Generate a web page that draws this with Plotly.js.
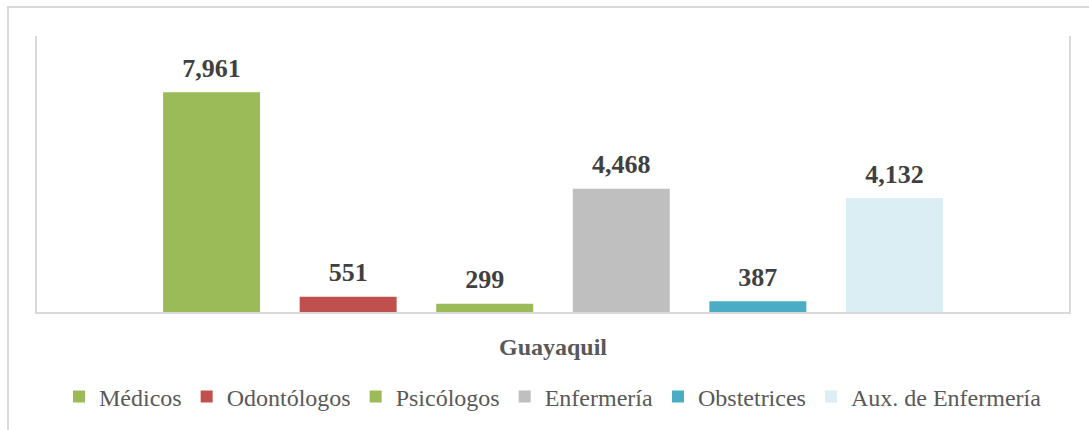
<!DOCTYPE html>
<html>
<head>
<meta charset="utf-8">
<script src="https://cdn.plot.ly/plotly-3.0.1.min.js"></script>
<style>
  html, body { margin: 0; padding: 0; background: #fff; overflow: hidden; }
  #chart { width: 1089px; height: 430px; position: absolute; left: 0; top: 0; }
  #frame { position: absolute; left: 7px; top: 6px; width: 1200px; height: 600px;
           border-top: 2px solid #d9d9d9; border-left: 2px solid #d9d9d9; pointer-events: none; }
</style>
</head>
<body>
<div id="chart"></div>
<div id="frame"></div>
<script>
const categories = ["Guayaquil"];
const seriesNames = ["Médicos", "Odontólogos", "Psicólogos", "Enfermería", "Obstetrices", "Aux. de Enfermería"];
const seriesValues = [[7961], [551], [299], [4468], [387], [4132]];
const seriesColors = ["#9BBB59", "#C0504D", "#9BBB59", "#BFBFBF", "#4BACC6", "#DAEEF3"];

const serif = "'Times New Roman', 'Liberation Serif', serif";

// label text: big value line followed by a tiny spacer line to lift label above the bar
const fmtLabel = v => '<span style="font-size:26px">' + v.toLocaleString("en-US") + '</span><br>&nbsp;';

const traces = seriesNames.map((name, i) => ({
  type: "bar",
  name: name,
  x: categories,
  y: seriesValues[i],
  marker: { color: seriesColors[i] },
  text: seriesValues[i].map(fmtLabel),
  textposition: "outside",
  cliponaxis: false,
  textfont: { family: serif, size: 8, color: "#404040", weight: "bold" },
  hoverinfo: "none"
}));

const layout = {
  width: 1089, height: 430,
  margin: { l: 37, r: 20, t: 36, b: 117 },
  paper_bgcolor: "#ffffff",
  plot_bgcolor: "#ffffff",
  barmode: "group",
  bargap: 0.206,
  bargroupgap: 0.29,
  showlegend: true,
  legend: {
    orientation: "h", x: 0.5, xanchor: "center", y: -0.303, yanchor: "middle",
    font: { family: serif, size: 24, color: "#595959" },
    traceorder: "normal"
  },
  xaxis: {
    type: "category",
    showline: true, linecolor: "#d9d9d9", linewidth: 2,
    showgrid: false, zeroline: false, ticks: "",
    ticklabelstandoff: 12,
    tickfont: { family: serif, size: 24, color: "#595959", weight: "bold" }
  },
  yaxis: {
    range: [0, 10000],
    showline: true, mirror: true, linecolor: "#d9d9d9", linewidth: 2,
    showgrid: false, zeroline: false, showticklabels: false, ticks: ""
  }
};

Plotly.newPlot("chart", traces, layout, { displayModeBar: false, staticPlot: true });
</script>
</body>
</html>
